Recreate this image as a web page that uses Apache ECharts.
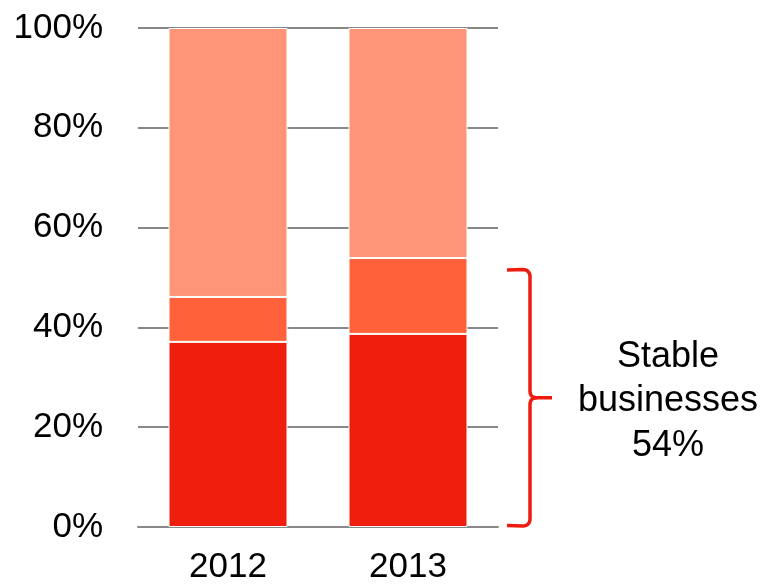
<!DOCTYPE html>
<html><head><meta charset="utf-8">
<script src="https://cdn.jsdelivr.net/npm/echarts@6/dist/echarts.min.js"></script>
<style>html,body{margin:0;padding:0;background:#fff}#c{width:765px;height:585px}</style>
</head><body><div id="c"></div>
<script>
const categories = ['2012', '2013'];
const bottomSeg = [37.1, 38.7];
const middleSeg = [9.0, 15.2];
const topSeg = [53.9, 46.1];
const yTicks = [0, 20, 40, 60, 80, 100];
const bracketRange = [0.3, 51.5];
const noteLines = ['Stable', 'businesses', '54%'];

const font = 'Liberation Sans, Arial, sans-serif';
const chart = echarts.init(document.getElementById('c'));
const segStyle = c => ({ color: c, borderColor: '#fff', borderWidth: 1 });
chart.setOption({
  animation: false,
  grid: { left: 138, right: 267, top: 28, bottom: 58 },
  xAxis: {
    type: 'category', data: categories,
    axisLine: { lineStyle: { color: '#888', width: 2 } },
    axisTick: { show: false },
    axisLabel: { fontSize: 35, color: '#000', fontFamily: font, margin: 23 }
  },
  yAxis: {
    type: 'value', min: 0, max: 100, interval: 20,
    axisLine: { show: false }, axisTick: { show: false },
    splitLine: { lineStyle: { color: '#888', width: 2 } },
    axisLabel: { fontSize: 35, color: '#000', fontFamily: font, margin: 35,
      formatter: v => yTicks.includes(v) ? v + '%' : '' }
  },
  series: [
    { type: 'bar', stack: 's', data: bottomSeg, barWidth: 119, itemStyle: segStyle('#F01E0C') },
    { type: 'bar', stack: 's', data: middleSeg, barWidth: 119, itemStyle: segStyle('#FF613A') },
    { type: 'bar', stack: 's', data: topSeg, barWidth: 119, itemStyle: segStyle('#FF9477') }
  ]
});
const yTop = chart.convertToPixel({ yAxisIndex: 0 }, bracketRange[1]);
const yBot = chart.convertToPixel({ yAxisIndex: 0 }, bracketRange[0]);
const yMid = (yTop + yBot) / 2;
const x0 = 507, x1 = 530, xt = 552;
function quad(p0, c, p1, n) {
  const out = [];
  for (let i = 1; i <= n; i++) {
    const t = i / n;
    out.push([(1-t)*(1-t)*p0[0] + 2*(1-t)*t*c[0] + t*t*p1[0], (1-t)*(1-t)*p0[1] + 2*(1-t)*t*c[1] + t*t*p1[1]]);
  }
  return out;
}
const upper = [[x0, yTop], [x1 - 7, yTop - 0.5]]
  .concat(quad([x1 - 7, yTop - 0.5], [x1, yTop], [x1, yTop + 7], 8))
  .concat([[x1, yMid - 7]])
  .concat(quad([x1, yMid - 7], [x1, yMid], [x1 + 7, yMid], 8))
  .concat([[xt, yMid]]);
const lower = [[x1 + 7, yMid]]
  .concat(quad([x1 + 7, yMid], [x1, yMid], [x1, yMid + 7], 8))
  .concat([[x1, yBot - 7]])
  .concat(quad([x1, yBot - 7], [x1, yBot], [x1 - 7, yBot + 0.5], 8))
  .concat([[x0, yBot]]);
chart.setOption({
  graphic: [
    { type: 'polyline', shape: { points: upper }, style: { fill: null, stroke: '#EE1C0E', lineWidth: 3.5 } },
    { type: 'polyline', shape: { points: lower }, style: { fill: null, stroke: '#EE1C0E', lineWidth: 3.5 } },
    ...noteLines.map((t, i) => ({
      type: 'text', x: 668, y: 357 + i * 44.5,
      style: { text: t, fontSize: 36, fontFamily: font, fill: '#000', align: 'center', verticalAlign: 'middle' }
    }))
  ]
});
</script></body></html>
